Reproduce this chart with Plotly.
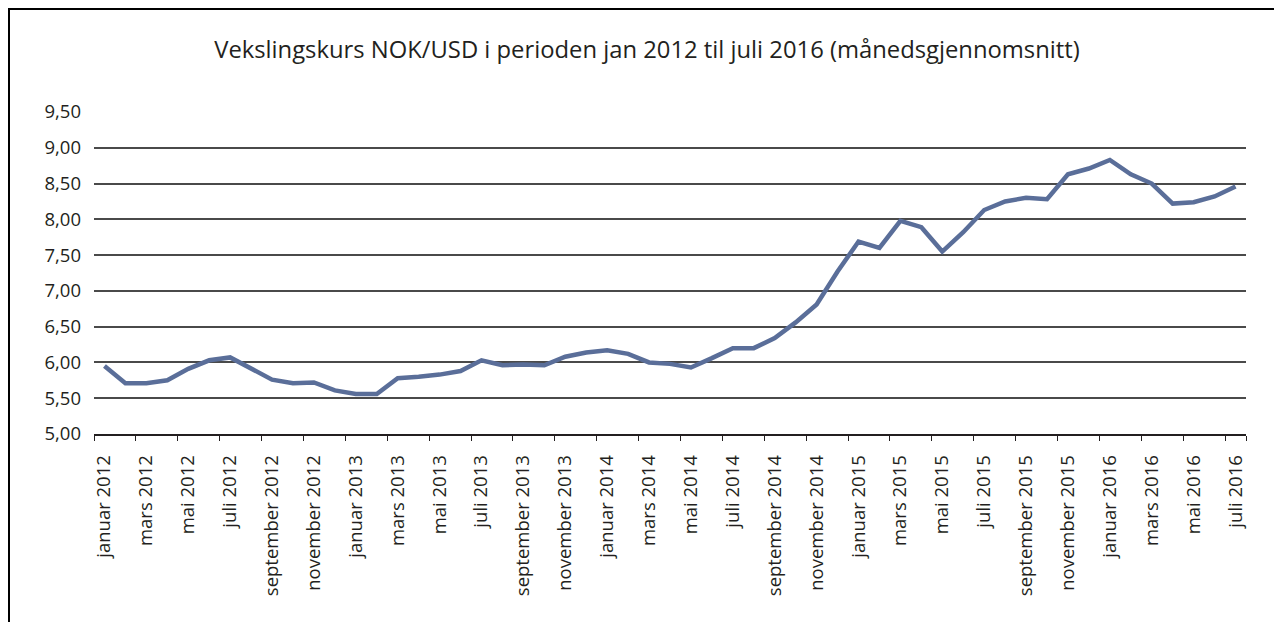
import plotly.graph_objects as go

month_names = ["januar", "februar", "mars", "april", "mai", "juni", "juli",
               "august", "september", "oktober", "november", "desember"]
years = [2012, 2013, 2014, 2015, 2016]

rate_2012 = [5.95, 5.71, 5.71, 5.75, 5.91, 6.03, 6.07, 5.91, 5.76, 5.71, 5.72, 5.61]
rate_2013 = [5.56, 5.56, 5.78, 5.80, 5.83, 5.88, 6.03, 5.96, 5.97, 5.96, 6.08, 6.14]
rate_2014 = [6.17, 6.12, 6.00, 5.98, 5.93, 6.06, 6.20, 6.20, 6.34, 6.56, 6.81, 7.27]
rate_2015 = [7.69, 7.60, 7.98, 7.89, 7.55, 7.82, 8.13, 8.25, 8.30, 8.28, 8.63, 8.71]
rate_2016 = [8.83, 8.63, 8.50, 8.22, 8.24, 8.32, 8.46]

y_tick_vals = [5.0, 5.5, 6.0, 6.5, 7.0, 7.5, 8.0, 8.5, 9.0, 9.5]

months = []
for yr in years:
    for m in month_names:
        months.append(f"{m} {yr}")
months = months[:55]
rates = rate_2012 + rate_2013 + rate_2014 + rate_2015 + rate_2016

FONT = "Open Sans"
# page body has an 8px margin, so the figure is sized to fit the window
W, H = 1274, 614
L, R, T, B = 86, 36, 104, 188
pw, ph = W - L - R, H - T - B

fig = go.Figure()
fig.add_trace(go.Scatter(
    x=months, y=rates, mode="lines",
    line=dict(color="#5A6E99", width=4.5),
    showlegend=False, hoverinfo="x+y",
))

fig.update_layout(
    width=W, height=H,
    margin=dict(l=L, r=R, t=T, b=B),
    paper_bgcolor="white", plot_bgcolor="white",
    separators=", ",
    font=dict(family=FONT, color="#231f20", size=18.5),
    title=dict(
        text="Vekslingskurs NOK/USD i perioden jan 2012 til juli 2016 (månedsgjennomsnitt)",
        x=0.5 + 2 / W, xanchor="center", xref="container",
        y=1 - 42 / H, yanchor="middle", yref="container",
        font=dict(family=FONT, size=23.8, color="#231f20"),
    ),
    xaxis=dict(
        type="category",
        categoryorder="array", categoryarray=months,
        tickmode="array", tickvals=months[::2], ticktext=months[::2],
        tickson="boundaries",
        ticks="outside", ticklen=5, tickcolor="#231f20", tickwidth=1,
        tickangle=-90,
        ticklabelstandoff=12,
        showline=True, linecolor="#231f20", linewidth=1.5,
        showgrid=False, zeroline=False,
        range=[-0.5, 54.5],
        tickfont=dict(family=FONT, size=18.5, color="#231f20"),
    ),
    yaxis=dict(
        range=[5.0, 9.5],
        tickmode="array", tickvals=y_tick_vals,
        tickformat=".2f",
        showgrid=True, gridcolor="#4a4a4a", gridwidth=1.5,
        showline=False, zeroline=False, ticks="",
        ticklabelstandoff=12,
        tickfont=dict(family=FONT, size=18.5, color="#231f20"),
    ),
    shapes=[
        dict(type="rect", xref="paper", yref="paper",
             x0=(1 - L) / pw, x1=(W + 20 - L) / pw,
             y0=(H - B - (H + 20)) / ph, y1=(H - B - 1) / ph,
             line=dict(color="black", width=2), fillcolor="rgba(0,0,0,0)",
             layer="above"),
    ],
)

fig.write_html("out.html")
